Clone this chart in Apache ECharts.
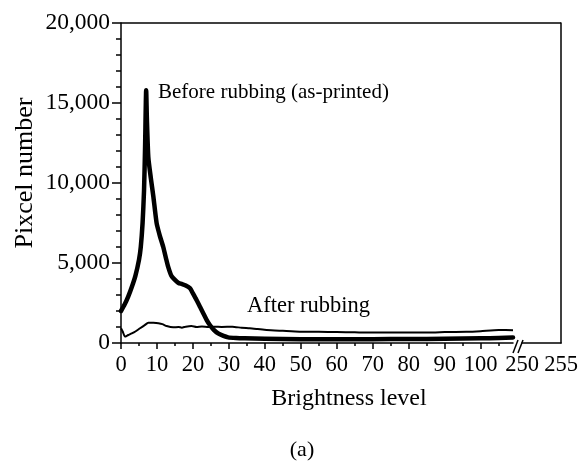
<!DOCTYPE html>
<html>
<head>
<meta charset="utf-8">
<title>Brightness histogram</title>
<script src="https://cdn.jsdelivr.net/npm/echarts@6/dist/echarts.min.js"></script>
</head>
<body style="margin: 0">
<div id="main" style="width: 587px; height: 464px"></div>
<script type="text/javascript">
// [brightness level, pixel count]
var beforeRubbing = [
    [0, 2000], [1, 2400], [2, 2900], [3, 3500], [4, 4200], [5, 5200], [5.5, 6000],
    [6, 7500], [6.4, 9500], [6.7, 12300], [7, 15800], [7.2, 14000], [7.6, 11600],
    [8.3, 10300], [9, 9150], [9.9, 7500], [10.8, 6700], [11.75, 6000], [12.5, 5300],
    [13.1, 4770], [14, 4200], [15, 3940], [16, 3750], [16.9, 3690], [18, 3600],
    [19.2, 3420], [20, 3100], [21, 2690], [22, 2250], [22.9, 1850], [23.8, 1450],
    [24.7, 1125], [25.8, 820], [27, 600], [28.5, 440], [29.8, 350], [32, 310],
    [34.4, 290], [40, 260], [50, 240], [60, 230], [70, 240], [80, 250], [90, 260],
    [100, 290], [105, 320], [109, 350]
];
var afterRubbing = [
    [0, 920], [0.5, 700], [1.1, 400], [2, 500], [3, 600], [4, 720], [5.3, 920],
    [6.5, 1100], [7.6, 1270], [9, 1260], [10.4, 1230], [11.5, 1180], [12.7, 1060],
    [14.5, 980], [16, 1000], [16.9, 960], [18, 1020], [19.6, 1060], [21, 1000],
    [22.5, 1030], [24.3, 1000], [26, 1020], [28, 1000], [31, 1020], [33.5, 950],
    [35.8, 920], [38, 870], [40.5, 810], [45, 760], [49.7, 710], [55, 700],
    [60, 680], [65, 670], [68, 650], [72, 660], [76, 650], [80, 660], [86.7, 650],
    [90, 680], [96, 700], [100, 740], [105, 810], [109, 800]
];
var xTicks = [0, 10, 20, 30, 40, 50, 60, 70, 80, 90, 100];
var xMinorTicks = [5, 15, 25, 35, 45, 55, 65, 75, 85, 95, 105];
var xBreakTicks = [250, 255];

var font = 'Liberation Serif';
var plotLeft = 121, plotTop = 23, plotBottom = 343, plotRight = 561;
var breakStart = 513, breakEnd = 522;

var myChart = echarts.init(document.getElementById('main'));

myChart.setOption({
    backgroundColor: '#fff',
    animation: false,
    grid: [
        { left: plotLeft, top: plotTop, width: breakStart - plotLeft, bottom: 464 - plotBottom },
        { left: breakEnd, top: plotTop, width: plotRight - breakEnd, bottom: 464 - plotBottom }
    ],
    xAxis: [
        {
            gridIndex: 0, type: 'value', min: 0, max: 109,
            axisLine: { lineStyle: { color: '#000', width: 1.5 } },
            axisTick: { customValues: xTicks, length: 6, lineStyle: { color: '#000', width: 1.5 } },
            axisLabel: { customValues: xTicks, color: '#000', fontFamily: font, fontSize: 22.5, margin: 11 },
            splitLine: { show: false }
        },
        {
            gridIndex: 0, type: 'value', min: 0, max: 109, position: 'bottom',
            axisLine: { show: false },
            axisTick: { customValues: xMinorTicks, length: 3, lineStyle: { color: '#000', width: 1.5 } },
            axisLabel: { show: false },
            splitLine: { show: false }
        },
        {
            gridIndex: 1, type: 'value', min: 250, max: 255,
            axisLine: { lineStyle: { color: '#000', width: 1.5 } },
            axisTick: { show: false },
            axisLabel: { customValues: xBreakTicks, color: '#000', fontFamily: font, fontSize: 22.5, margin: 11 },
            splitLine: { show: false }
        }
    ],
    yAxis: [
        {
            gridIndex: 0, type: 'value', min: 0, max: 20000, interval: 5000,
            axisLine: { show: true, lineStyle: { color: '#000', width: 1.5 } },
            axisTick: { show: true, length: 9, lineStyle: { color: '#000', width: 1.5 } },
            minorTick: { show: true, splitNumber: 5, length: 5, lineStyle: { color: '#000', width: 1.5 } },
            axisLabel: {
                color: '#000', fontFamily: font, fontSize: 23.5, margin: 11,
                formatter: function (v) { return v.toLocaleString('en-US'); }
            },
            splitLine: { show: false }
        },
        {
            gridIndex: 1, type: 'value', min: 0, max: 20000, position: 'right',
            axisLine: { show: true, lineStyle: { color: '#000', width: 1.5 } },
            axisTick: { show: false },
            axisLabel: { show: false },
            splitLine: { show: false }
        }
    ],
    series: [
        {
            name: 'Before rubbing (as-printed)', type: 'line',
            xAxisIndex: 0, yAxisIndex: 0,
            data: beforeRubbing, showSymbol: false, smooth: 0.2,
            lineStyle: { color: '#000', width: 4.5, join: 'round', cap: 'round' }
        },
        {
            name: 'After rubbing', type: 'line',
            xAxisIndex: 0, yAxisIndex: 0,
            data: afterRubbing, showSymbol: false, smooth: 0.2,
            lineStyle: { color: '#000', width: 2, join: 'round' }
        }
    ],
    graphic: [
        // top frame
        { type: 'line', shape: { x1: plotLeft, y1: plotTop, x2: plotRight, y2: plotTop },
          style: { stroke: '#000', lineWidth: 1.5 } },
        // axis break marks
        { type: 'line', shape: { x1: breakStart, y1: plotBottom + 10, x2: breakStart + 5, y2: plotBottom - 3 },
          style: { stroke: '#000', lineWidth: 1.5 } },
        { type: 'line', shape: { x1: breakStart + 5, y1: plotBottom + 10, x2: breakStart + 10, y2: plotBottom - 3 },
          style: { stroke: '#000', lineWidth: 1.5 } },
        { type: 'text', x: 158, y: 92,
          style: { text: 'Before rubbing (as-printed)', fontFamily: font, fontSize: 21, fill: '#000', verticalAlign: 'middle' } },
        { type: 'text', x: 247, y: 306,
          style: { text: 'After rubbing', fontFamily: font, fontSize: 22.5, fill: '#000', verticalAlign: 'middle' } },
        { type: 'text', x: 349, y: 399,
          style: { text: 'Brightness level', fontFamily: font, fontSize: 24, fill: '#000', align: 'center', verticalAlign: 'middle' } },
        { type: 'text', x: 25, y: 173, rotation: Math.PI / 2,
          style: { text: 'Pixcel number', fontFamily: font, fontSize: 26, fill: '#000', align: 'center', verticalAlign: 'middle' } },
        { type: 'text', x: 302, y: 450,
          style: { text: '(a)', fontFamily: font, fontSize: 22, fill: '#000', align: 'center', verticalAlign: 'middle' } }
    ]
});
</script>
</body>
</html>
